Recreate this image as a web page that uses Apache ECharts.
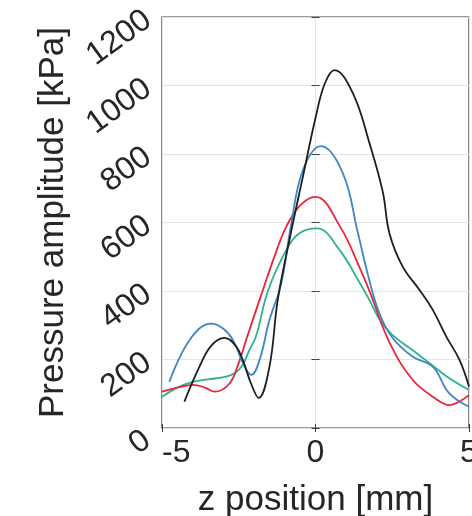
<!DOCTYPE html>
<html>
<head>
<meta charset="utf-8">
<script src="https://cdn.jsdelivr.net/npm/echarts@6/dist/echarts.min.js"></script>
<style>html,body{margin:0;padding:0;background:#fff}#c{width:472px;height:516px}</style>
</head>
<body>
<div id="c"></div>
<script>
// z positions [mm] and pressure amplitudes [kPa] per curve
const zBlack = [-4.27,-3.78,-3.4,-2.96,-2.6,-2.37,-2.1,-1.85,-1.5,-1.23,-0.85,-0.41,0,0.3,0.62,1.22,1.76,2.19,2.41,2.84,3.39,3.82,4.26,4.69,5];
const vBlack = [77,179,240,263,240,199,130,88,179,374,549,734,905,1005,1045,977,831,690,568,471,403,345,267,199,121];
const zBlue = [-4.76,-4.1,-3.4,-3.0,-2.69,-2.31,-2.09,-1.82,-1.5,-1.12,-0.8,-0.41,0.18,0.89,1.38,1.7,2.08,2.52,3.17,3.82,4.36,5];
const vBlue = [135,257,305,290,257,179,155,199,315,420,590,753,823,744,570,450,335,262,208,179,101,62];
const zRed = [-5,-4.5,-4.0,-3.6,-3.29,-2.8,-2.5,-2.26,-1.8,-1.3,-0.95,-0.5,0,0.8,1.43,1.8,2.41,3.17,3.93,4.36,4.7,5];
const vRed = [106,118,126,118,106,130,190,257,380,510,588,650,675,588,470,390,250,140,85,67,78,96];
const zGreen = [-5,-4.5,-4.0,-3.5,-2.91,-2.6,-2.37,-2.15,-1.93,-1.55,-0.95,-0.5,0.05,0.78,1.4,1.75,2.1,2.5,3.2,3.85,4.36,5];
const vGreen = [91,118,135,142,150,162,185,228,270,400,520,570,583,520,430,375,315,272,225,180,145,111];

const xTicks = [-5, 0, 5];
const yTicks = [0, 200, 400, 600, 800, 1000, 1200];

const pairs = (z, v) => z.map((x, i) => [x, v[i]]);
const font = '"Liberation Sans", Arial, sans-serif';

const series = [
  {name:'green', color:'#2ab38c', data:pairs(zGreen, vGreen)},
  {name:'red', color:'#e8253c', data:pairs(zRed, vRed)},
  {name:'blue', color:'#3f86c4', data:pairs(zBlue, vBlue)},
  {name:'black', color:'#1e1e1e', data:pairs(zBlack, vBlack)}
].map(s => ({
  type:'line', name:s.name, data:s.data, smooth:0.4, showSymbol:false,
  lineStyle:{color:s.color, width:1.8}, itemStyle:{color:s.color}, z:3
}));

const chart = echarts.init(document.getElementById('c'), null, {renderer:'canvas'});
chart.setOption({
  animation:false,
  grid:{left:162, right:3, top:17, bottom:88, show:true, borderColor:'#3a3a3a', borderWidth:1.2, backgroundColor:'#fff', outerBoundsMode:'none', containLabel:false},
  xAxis:[{
    type:'value', min:xTicks[0], max:xTicks[xTicks.length-1], interval:5,
    name:'z position [mm]', nameLocation:'middle', nameGap:55,
    nameTextStyle:{fontFamily:font, fontSize:35, color:'#262626'},
    axisLine:{show:false},
    axisTick:{show:true, inside:true, length:4, lineStyle:{color:'#3a3a3a'}},
    axisLabel:{fontFamily:font, fontSize:32, color:'#262626', margin:9, alignMinLabel:'left', alignMaxLabel:'center',
      formatter: v => String(v)},
    splitLine:{show:true, lineStyle:{color:'#e4e4e4', width:1}}
  },{
    type:'value', position:'top', min:-5, max:5, interval:5,
    axisLine:{show:false}, axisLabel:{show:false}, splitLine:{show:false},
    axisTick:{show:true, inside:true, length:4, lineStyle:{color:'#3a3a3a'}}
  }],
  yAxis:[{
    type:'value', min:yTicks[0], max:yTicks[yTicks.length-1], interval:200,
    name:'Pressure amplitude [kPa]', nameLocation:'middle', nameGap:91, nameRotate:90,
    nameTextStyle:{fontFamily:font, fontSize:35, color:'#262626'},
    axisLine:{show:false},
    axisTick:{show:true, inside:true, length:4, lineStyle:{color:'#3a3a3a'}},
    axisLabel:{fontFamily:font, fontSize:32, color:'#262626', rotate:36, margin:14,
      formatter: v => v === 0 ? '{z|0}' : String(v),
      rich:{z:{fontFamily:font, fontSize:32, color:'#262626', padding:[14,6,0,0]}}},
    splitLine:{show:true, lineStyle:{color:'#e4e4e4', width:1}}
  },{
    type:'value', position:'right', min:0, max:1200, interval:200,
    axisLine:{show:false}, axisLabel:{show:false}, splitLine:{show:false},
    axisTick:{show:true, inside:true, length:4, lineStyle:{color:'#3a3a3a'}}
  }],
  series: series
});
</script>
</body>
</html>
